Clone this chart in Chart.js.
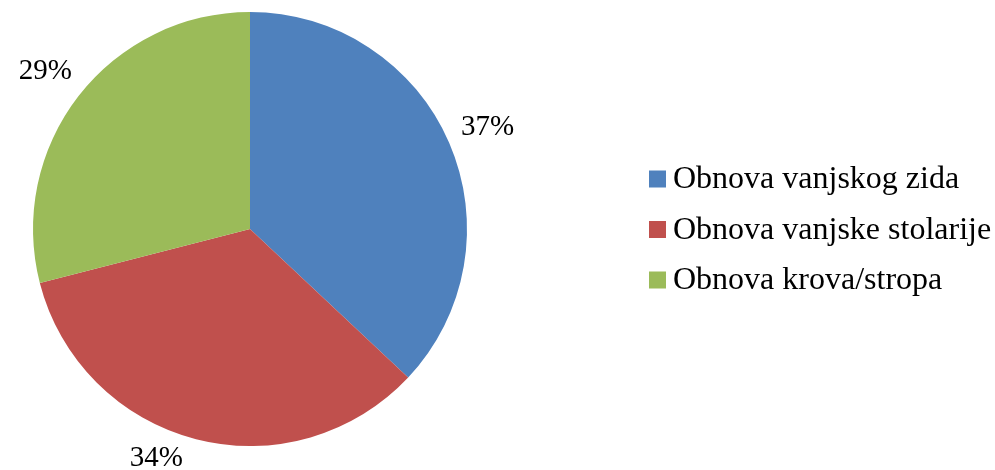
<!DOCTYPE html>
<html lang="hr">
<head>
  <meta charset="UTF-8" />
  <title>Obnova</title>
  <script src="https://cdn.jsdelivr.net/npm/chart.js"></script>
  <style>
    html, body { margin: 0; padding: 0; background: #fff; }
    #wrap { width: 995px; height: 470px; position: relative; }
  </style>
</head>
<body>
  <div id="wrap">
    <canvas id="pieChart"></canvas>
  </div>

  <script>
    const categories = ['Obnova vanjskog zida', 'Obnova vanjske stolarije', 'Obnova krova/stropa'];
    const values = [37, 34, 29];
    const colors = ['#4F81BD', '#C0504D', '#9BBB59'];

    const LABEL_FONT = '29px "Liberation Serif", "Times New Roman", serif';
    const LEGEND_FONT = '32px "Liberation Serif", "Times New Roman", serif';

    // postoci izvan kriški + legenda desno
    const extras = {
      id: 'extras',
      afterDraw(chart) {
        const ctx = chart.ctx;
        const arcs = chart.getDatasetMeta(0).data;
        const total = values.reduce((a, b) => a + b, 0);
        ctx.save();
        ctx.font = LABEL_FONT;
        ctx.fillStyle = '#000';
        ctx.textAlign = 'center';
        ctx.textBaseline = 'middle';
        arcs.forEach((arc, i) => {
          const mid = (arc.startAngle + arc.endAngle) / 2;
          const R = arc.outerRadius + 42;
          let x = arc.x + Math.cos(mid) * R;
          let y = arc.y + Math.sin(mid) * R;
          const maxY = chart.height - 13;
          if (y > maxY) {
            // ne stane dolje: spusti na rub i pomakni prema van
            const dy = maxY - arc.y;
            const dx = Math.sqrt(Math.max(R * R - dy * dy, 0));
            const xc = arc.x + (Math.cos(mid) < 0 ? -dx : dx);
            x = (x + xc) / 2;
            y = maxY;
          }
          ctx.fillText(Math.round(values[i] / total * 100) + '%', x, y + 1);
        });

        // legenda
        ctx.font = LEGEND_FONT;
        ctx.textAlign = 'left';
        const lx = 649, ly = 179, step = 50.5, box = 17;
        categories.forEach((c, i) => {
          const y = ly + i * step;
          ctx.fillStyle = colors[i];
          ctx.fillRect(lx, y - box / 2, box, box);
          ctx.fillStyle = '#000';
          ctx.fillText(c, lx + 24, y + 1);
        });
        ctx.restore();
      }
    };

    new Chart(document.getElementById('pieChart'), {
      type: 'pie',
      data: {
        labels: categories,
        datasets: [{
          data: values,
          backgroundColor: colors,
          borderWidth: 0
        }]
      },
      options: {
        responsive: true,
        maintainAspectRatio: false,
        animation: false,
        layout: { padding: { left: 33, right: 528, top: 12, bottom: 24 } },
        plugins: {
          legend: { display: false },
          tooltip: { enabled: false }
        }
      },
      plugins: [extras]
    });
  </script>
</body>
</html>
